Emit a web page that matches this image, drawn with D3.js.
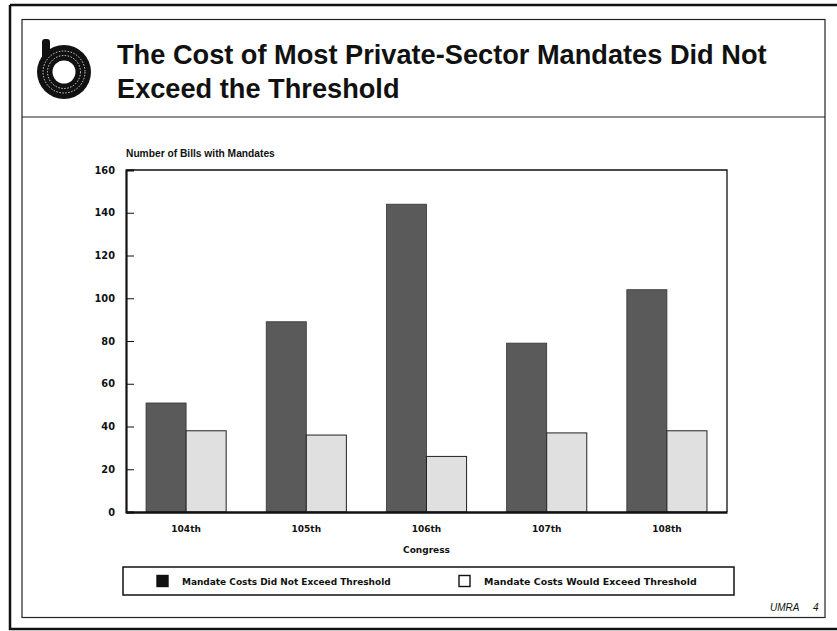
<!DOCTYPE html>
<html><head><meta charset="utf-8">
<script src="https://cdn.jsdelivr.net/npm/d3@7"></script>
<style>body{margin:0;background:#fff}svg{display:block}</style>
</head><body>
<script>
const congresses = ["104th","105th","106th","107th","108th"];
const notExceed = [51, 89, 144, 79, 104];
const wouldExceed = [38, 36, 26, 37, 38];
const yTicks = [0,20,40,60,80,100,120,140,160];
const seriesNames = ["Mandate Costs Did Not Exceed Threshold","Mandate Costs Would Exceed Threshold"];
const titleLines = ["The Cost of Most Private-Sector Mandates Did Not","Exceed the Threshold"];
const yLabel = "Number of Bills with Mandates";
const xLabel = "Congress";

(function(){
const W = 837, H = 631;
const svg = d3.select("body").append("svg").attr("width", W).attr("height", H);
const sans = "'Liberation Sans', Arial, Helvetica, sans-serif";
const chunky = "'DejaVu Sans', Verdana, sans-serif";

// frames
svg.append("path").attr("d","M10,5 H845 M10,5 V629 H845").attr("fill","none").attr("stroke","#111").attr("stroke-width",2.5);
svg.append("rect").attr("x",22).attr("y",19.5).attr("width",803).attr("height",598).attr("fill","none").attr("stroke","#222").attr("stroke-width",1.2);
svg.append("line").attr("x1",22).attr("x2",825).attr("y1",117).attr("y2",117).attr("stroke","#222").attr("stroke-width",1.2);

// logo
const lg = svg.append("g");
lg.append("rect").attr("x",42).attr("y",39).attr("width",8).attr("height",34).attr("rx",3).attr("fill","#111");
lg.append("circle").attr("cx",64).attr("cy",72).attr("r",27).attr("fill","#111");
lg.append("circle").attr("cx",64).attr("cy",72).attr("r",21).attr("fill","none").attr("stroke","#fff").attr("stroke-width",0.8).attr("stroke-dasharray","1.5,1.5");
lg.append("circle").attr("cx",64).attr("cy",72).attr("r",16.5).attr("fill","none").attr("stroke","#fff").attr("stroke-width",0.8).attr("stroke-dasharray","1.5,1.5");
lg.append("circle").attr("cx",64).attr("cy",72).attr("r",11.5).attr("fill","#fff");

// title
const t1 = svg.append("text").attr("x",117).attr("y",64).attr("font-family",sans).attr("font-weight","bold").attr("font-size",23).attr("fill","#111").text(titleLines[0]);
const w1 = t1.node().getComputedTextLength();
const fs = 23 * 650 / w1;
t1.attr("font-size", fs);
svg.append("text").attr("x",117).attr("y",98).attr("font-family",sans).attr("font-weight","bold").attr("font-size",fs).attr("fill","#111").text(titleLines[1]);

// plot
const pL = 126, pR = 727, pT = 170, pB = 512;
const x = d3.scaleBand().domain(congresses).range([pL,pR]).paddingInner(1/3).paddingOuter(1/6);
const y = d3.scaleLinear().domain([0,160]).range([pB,pT]);

// y label
const yl = svg.append("text").attr("x",126).attr("y",157).attr("font-family",sans).attr("font-weight","bold").attr("font-size",10).attr("fill","#111").text(yLabel);
yl.attr("font-size", 10*149/yl.node().getComputedTextLength());

// bars
const bw = x.bandwidth()/2;
svg.append("g").selectAll("rect").data(congresses).join("rect")
  .attr("x",d=>x(d)).attr("width",bw)
  .attr("y",(d,i)=>y(notExceed[i])).attr("height",(d,i)=>y(0)-y(notExceed[i]))
  .attr("fill","#5a5a5a").attr("stroke","#333").attr("stroke-width",0.8);
svg.append("g").selectAll("rect").data(congresses).join("rect")
  .attr("x",d=>x(d)+bw).attr("width",bw)
  .attr("y",(d,i)=>y(wouldExceed[i])).attr("height",(d,i)=>y(0)-y(wouldExceed[i]))
  .attr("fill","#e0e0e0").attr("stroke","#222").attr("stroke-width",1);

// frame top/right
svg.append("path").attr("d",`M${pL},${pT} H${pR} V${pB}`).attr("fill","none").attr("stroke","#111").attr("stroke-width",1.3);

// y axis
const yAxis = d3.axisRight(y).tickValues(yTicks).tickSize(8).tickFormat("");
const ya = svg.append("g").attr("transform",`translate(${pL},0)`).call(yAxis);
ya.select(".domain").attr("stroke","#111").attr("stroke-width",2.2);
ya.selectAll(".tick line").attr("stroke","#111").attr("stroke-width",1);
svg.append("g").selectAll("text").data(yTicks).join("text")
  .attr("x",115).attr("y",d=>y(d)+3.7).attr("text-anchor","end")
  .attr("font-family",chunky).attr("font-weight","bold").attr("font-size",9.8).attr("fill","#111")
  .text(d=>d);

// x axis
const xAxis = d3.axisBottom(x).tickSize(0).tickPadding(17);
const xa = svg.append("g").attr("transform",`translate(0,${pB})`).call(xAxis);
xa.select(".domain").attr("stroke","#111").attr("stroke-width",2.4);
xa.selectAll(".tick text").attr("font-family",chunky).attr("font-weight","bold").attr("font-size",9).attr("fill","#111").attr("dy","0.3em");
svg.append("text").attr("x",(pL+pR)/2).attr("y",553).attr("text-anchor","middle")
  .attr("font-family",chunky).attr("font-weight","bold").attr("font-size",9).attr("fill","#111").text(xLabel);

// legend
svg.append("rect").attr("x",123).attr("y",567).attr("width",611).attr("height",28).attr("fill","#fff").attr("stroke","#111").attr("stroke-width",1.5);
const leg = [{sx:157, tx:182, tw:209, fill:"#111"},{sx:459, tx:484, tw:213, fill:"#fff"}];
leg.forEach((l,i)=>{
  svg.append("rect").attr("x",l.sx).attr("y",575.5).attr("width",11).attr("height",11).attr("fill",l.fill).attr("stroke","#111").attr("stroke-width",1.4);
  const t = svg.append("text").attr("x",l.tx).attr("y",584.5).attr("font-family",chunky).attr("font-weight","bold").attr("font-size",8.5).attr("fill","#111").text(seriesNames[i]);
  t.attr("font-size", 8.5*l.tw/t.node().getComputedTextLength());
});

// footer
svg.append("text").attr("x",770).attr("y",611).attr("font-family",sans).attr("font-style","italic").attr("font-size",10).attr("fill","#111").text("UMRA");
svg.append("text").attr("x",813).attr("y",611).attr("font-family",sans).attr("font-style","italic").attr("font-size",10).attr("fill","#111").text("4");
})();
</script>
</body></html>
